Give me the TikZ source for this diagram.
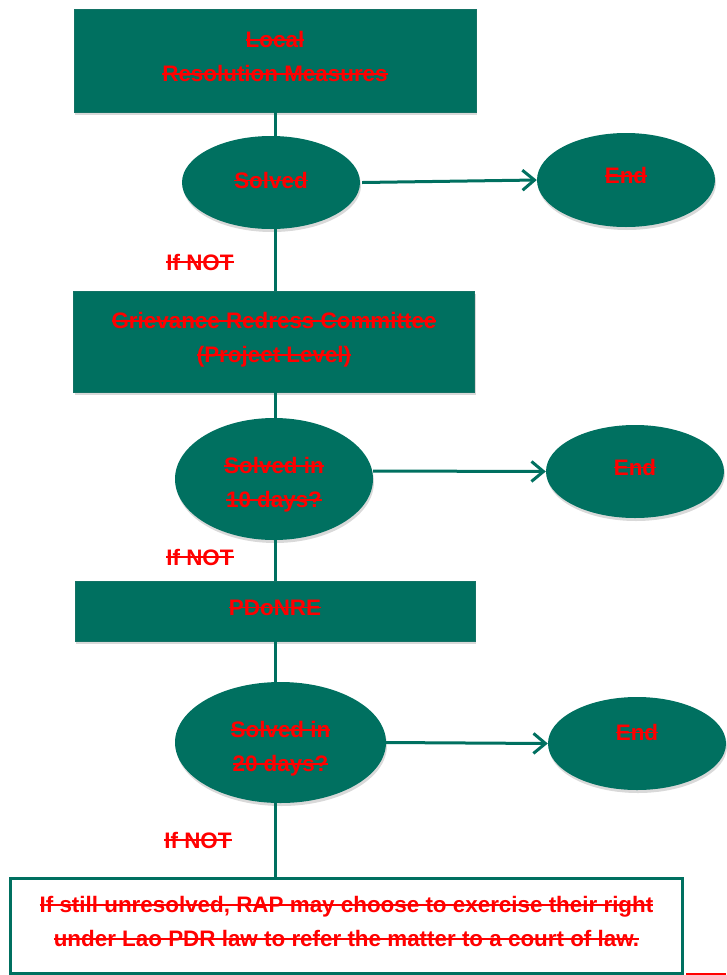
\documentclass[tikz,border=0pt]{standalone}
\usepackage{fontspec}
\setmainfont{Liberation Sans}
\usetikzlibrary{shapes.geometric,arrows.meta,shadows}
\definecolor{gr}{RGB}{0,112,96}
\newcommand{\st}[1]{\setbox0=\hbox{#1}\rlap{\rule[0.3em]{\wd0}{1.8pt}}\box0}
\begin{document}
\begin{tikzpicture}[x=1pt,y=-1pt,
  txt/.style={font=\fontsize{22.4}{34}\selectfont\bfseries, text=red, align=center},
  shad/.style={drop shadow={shadow xshift=1pt, shadow yshift=-3pt, opacity=0.3, fill=gray}},
  stepbox/.style={rectangle, fill=gr, draw=gr!85!gray, line width=0.6pt, inner sep=0pt, shad, txt},
  oval/.style={ellipse, fill=gr, draw=none, inner sep=0pt, shad, txt},
  conn/.style={draw=gr, line width=3pt},
  arr/.style={draw=gr, line width=3pt, -{Straight Barb[length=12pt, width=20pt, line width=3pt]}},
  ifnot/.style={txt, inner sep=0pt}]
\useasboundingbox (0,0) rectangle (726,975);

% boxes
\node[stepbox, minimum width=402pt, minimum height=103pt, text depth=8pt] (b1) at (275,60.5)
  {\st{Local}\\\st{Resolution Measures}};
\node[stepbox, minimum width=401pt, minimum height=101pt, text depth=8pt] (b2) at (274,341.5)
  {\st{Grievance Redress Committee}\\\st{(Project Level)}};
\node[stepbox, minimum width=400pt, minimum height=60pt, text depth=7pt] (b3) at (275,611)
  {\st{PDoNRE}};

% decision ellipses
\node[oval, minimum width=178pt, minimum height=93pt, text depth=5pt] (s1) at (271,182.5) {\st{Solved}};
\node[oval, minimum width=198pt, minimum height=122pt] (s2) at (274,479) {};
\node[txt, inner sep=0pt] (s2t) at ([yshift=-6pt]s2.center) {\st{Solved in}\\\st{10 days?}};
\node[oval, minimum width=211pt, minimum height=121pt] (s3) at (280.5,742.5) {};
\node[txt, inner sep=0pt] (s3t) at ([yshift=-6.5pt]s3.center) {\st{Solved in}\\\st{20 days?}};

% end ellipses
\node[oval, minimum width=178pt, minimum height=94pt, text depth=9pt] (e1) at (626,180) {\st{End}};
\node[oval, minimum width=178pt, minimum height=93pt, text depth=9pt] (e2) at (635,471.5) {\st{End}};
\node[oval, minimum width=178pt, minimum height=93pt, text depth=23pt] (e3) at (637,743.5) {\st{End}};

% final box
\node[rectangle, draw=gr, line width=3pt, fill=white, minimum width=672pt, minimum height=95pt,
  txt, text depth=8pt] (fin) at (346.5,925.5)
  {\st{If still unresolved, RAP may choose to exercise their right}\\\st{under Lao PDR law to refer the matter to a court of law.}};

% If NOT labels
\node[ifnot] (n1) at (200,262) {\st{If NOT}};
\node[ifnot] (n2) at (200,557) {\st{If NOT}};
\node[ifnot] (n3) at (198,840) {\st{If NOT}};

% main vertical connectors
\draw[conn] (b1.south) -- (b1.south |- s1.north);
\draw[conn] (b1.south |- s1.south) -- (b1.south |- b2.north);
\draw[conn] (b1.south |- b2.south) -- (b1.south |- s2.north);
\draw[conn] (b1.south |- s2.south) -- (b1.south |- b3.north);
\draw[conn] (b3.south) -- (b3.south |- s3.north);
\draw[conn] (b3.south |- s3.south) -- (b3.south |- fin.north);

% arrows to End
\draw[arr] (s1.east) ++(2,0) -- (e1.west);
\draw[arr] (s2.east) ++(0,-8) -- (e2.west);
\draw[arr] (s3.east) -- (e3.west);

% small red mark at bottom right
\coordinate (rm1) at (686,974);
\coordinate (rm2) at (726,974);
\draw[red, line width=1.5pt] (rm1) -- (rm2);
\end{tikzpicture}
\end{document}
